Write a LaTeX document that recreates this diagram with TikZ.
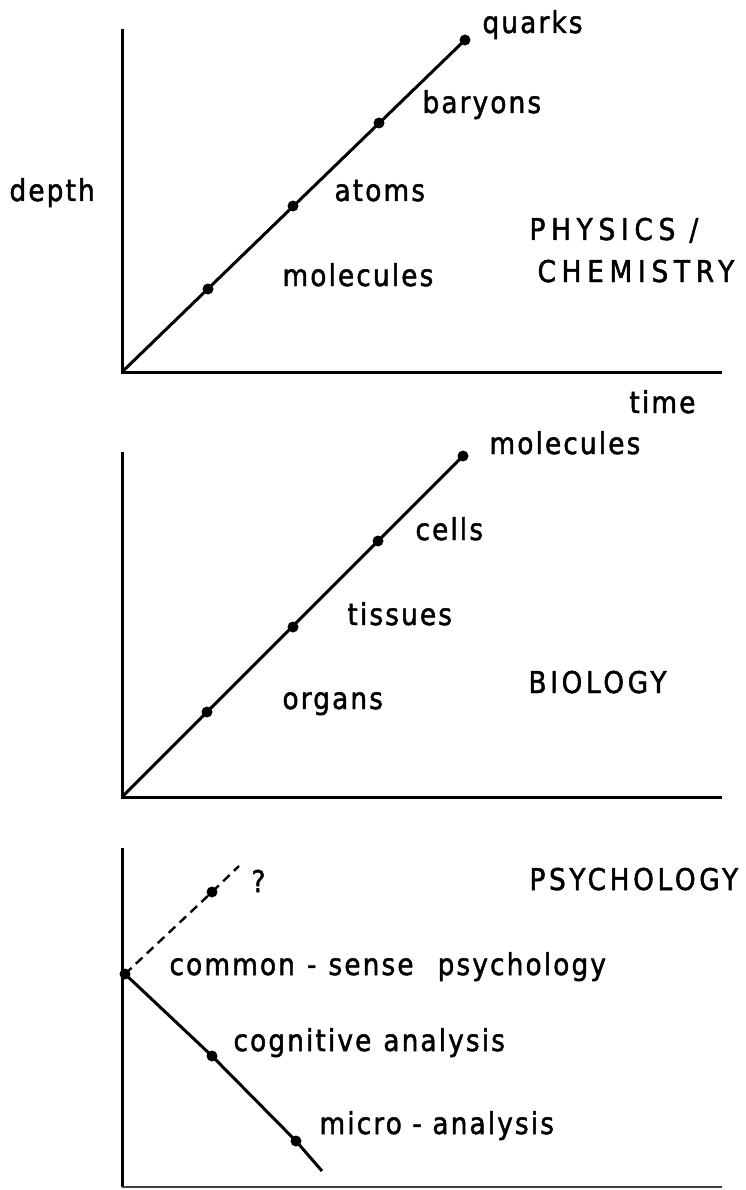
\documentclass[tikz,border=0pt]{standalone}
\usepackage{fontspec}
\newfontfamily\labfont[LetterSpace=7,FakeStretch=0.88,FakeBold=1.6]{DejaVu Sans}
\newfontfamily\capfont[LetterSpace=12,FakeStretch=0.88,FakeBold=1.6]{DejaVu Sans}
\newfontfamily\capwidefont[LetterSpace=19,FakeStretch=0.88,FakeBold=1.6]{DejaVu Sans}
\begin{document}
\begin{tikzpicture}[x=1pt,y=-1pt,line width=3pt,
  dot/.style={circle,fill,inner sep=0pt,minimum size=11pt},
  lab/.style={anchor=base west,inner sep=0pt,font=\labfont\fontsize{30}{32}\selectfont},
  caplab/.style={anchor=base west,inner sep=0pt,font=\capfont\fontsize{30}{32}\selectfont},
  capwide/.style={anchor=base west,inner sep=0pt,font=\capwidefont\fontsize{30}{32}\selectfont}]
\useasboundingbox (0,0) rectangle (745,1190);
% ---------- top panel ----------
\coordinate (o1) at (122,372);
\coordinate (y1) at (122,29);
\coordinate (x1) at (722,372);
\draw (y1) -- (o1) -- (x1);
\node[dot] (a1) at (208,289) {};
\node[dot] (a2) at (293,206) {};
\node[dot] (a3) at (379,123) {};
\node[dot] (a4) at (465,40) {};
\draw (o1) -- (a4.center);
\node[lab] (tq) at (481,33) {quarks};
\node[lab] (tb) at (421,113) {baryons};
\node[lab] (ta) at (333,201) {atoms};
\node[lab] (tm) at (281,286) {molecules};
\node[lab] (td) at (8,201) {depth};
\node[capwide] (tp) at (528,240) {PHYSICS /};
\node[capwide] (tc) at (536,282) {CHEMISTRY};
\node[lab] (tt) at (628,413) {time};
% ---------- middle panel ----------
\coordinate (o2) at (122,797);
\coordinate (y2) at (122,452);
\coordinate (x2) at (722,797);
\draw (y2) -- (o2) -- (x2);
\node[dot] (b1) at (207,712) {};
\node[dot] (b2) at (293,627) {};
\node[dot] (b3) at (378,541) {};
\node[dot] (b4) at (463,456) {};
\draw (o2) -- (b4.center);
\node[lab] (mm) at (488,454) {molecules};
\node[lab] (mc) at (414,540) {cells};
\node[lab] (mt) at (346,625) {tissues};
\node[lab] (mo) at (281,709) {organs};
\node[caplab] (mb) at (527,693) {BIOLOGY};
% ---------- bottom panel ----------
\coordinate (y3) at (122,848);
\coordinate (o3) at (122,1187);
\coordinate (x3) at (722,1187);
\draw (y3) -- (o3);
\draw[line width=1.6pt,black!75] (o3) -- (x3);
\node[dot] (c0) at (125,974) {};
\node[dot] (c1) at (212,892) {};
\coordinate (c2) at (239,866);
\draw[dash pattern=on 9pt off 6pt,line width=2.4pt] (c0.center) -- (c1.center) -- (c2);
\node[dot] (c3) at (212,1056) {};
\node[dot] (c4) at (296,1141) {};
\coordinate (c5) at (322,1171);
\draw (c0.center) -- (c3.center) -- (c4.center) -- (c5);
\node[lab] (pq) at (250,892) {?};
\node[caplab] (pp) at (528,890) {PSYCHOLOGY};
\node[lab] (pc) at (168,975) {common\hspace{12pt}-\hspace{12pt}sense\hspace{24pt}psychology};
\node[lab] (pg) at (232,1051) {cognitive\hspace{12pt}analysis};
\node[lab] (pm) at (318,1134) {micro - analysis};
\end{tikzpicture}
\end{document}
